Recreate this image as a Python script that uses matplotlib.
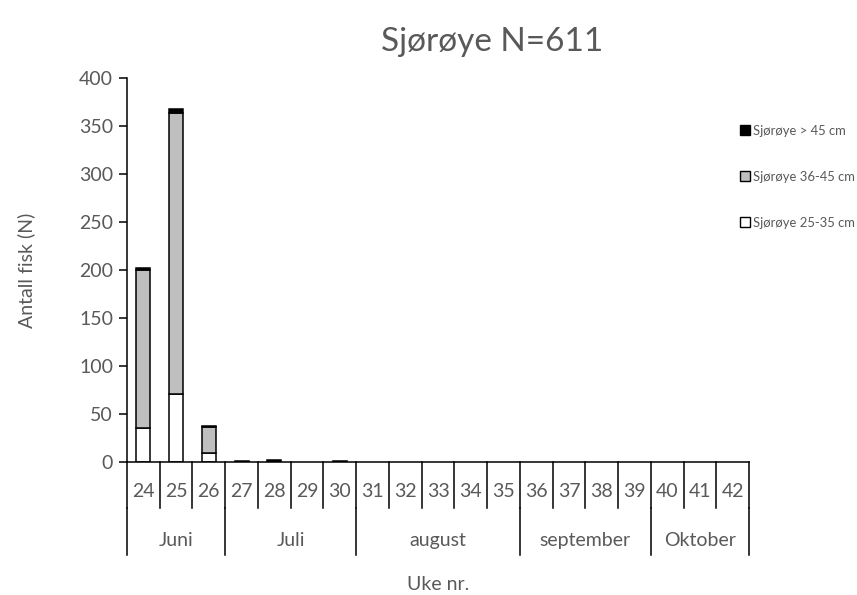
import numpy as np
import matplotlib
matplotlib.use("Agg")
import matplotlib.pyplot as plt
from matplotlib.patches import Patch

# data
weeks = [str(w) for w in range(24, 43)]
small_25_35 = [35, 71, 9, 0, 0, 0, 0, 0, 0, 0, 0, 0, 0, 0, 0, 0, 0, 0, 0]
mid_36_45 = [165, 293, 27, 0, 0, 0, 0, 0, 0, 0, 0, 0, 0, 0, 0, 0, 0, 0, 0]
big_45 = [2, 4, 1, 1, 2, 0, 1, 0, 0, 0, 0, 0, 0, 0, 0, 0, 0, 0, 0]
months = ["Juni", "Juli", "august", "september", "Oktober"]
month_weeks = [3, 4, 5, 4, 3]
labels = ["Sjørøye 25-35 cm", "Sjørøye 36-45 cm", "Sjørøye > 45 cm"]

plt.rcParams['font.family'] = ['Lato', 'DejaVu Sans']
txt = '#595959'

fig = plt.figure(figsize=(8.57, 5.95), dpi=100)
ax = fig.add_axes([127 / 857, 1 - 462 / 595, 622 / 857, 384 / 595])

x = np.arange(len(weeks))
s = np.array(small_25_35)
m = np.array(mid_36_45)
b = np.array(big_45)
w = 0.43


def stack(vals, bottom, color):
    # skip empty weeks so no zero-height outlines are drawn
    keep = vals > 0
    ax.bar(x[keep], vals[keep], w, bottom=bottom[keep], color=color,
           edgecolor='black', linewidth=1.1)


stack(s, np.zeros_like(s), 'white')
stack(m, s, '#bfbfbf')
stack(b, s + m, 'black')

ax.set_xlim(-0.5, len(weeks) - 0.5)
ax.set_ylim(0, 400)
ax.set_yticks(range(0, 401, 50))
ax.tick_params(axis='y', direction='out', length=6, width=1.1, color='black',
               labelcolor=txt, labelsize=14, pad=4)
ax.set_xticks([])
for sp in ['top', 'right']:
    ax.spines[sp].set_visible(False)
for sp in ['left', 'bottom']:
    ax.spines[sp].set_linewidth(1.1)
    ax.spines[sp].set_color('black')

# category axis: weeks and months
tr = ax.get_xaxis_transform()
for i, wk in enumerate(weeks):
    ax.text(i, -0.077, wk, transform=tr, ha='center', va='center',
            fontsize=14, color=txt)
for i in range(len(weeks) + 1):
    ax.plot([i - 0.5, i - 0.5], [0, -0.12], transform=tr, color='black',
            lw=1.1, clip_on=False)
start = 0
for name, n in zip(months, month_weeks):
    ax.text(start + n / 2 - 0.5, -0.205, name, transform=tr, ha='center',
            va='center', fontsize=14, color=txt)
    start += n
edges = np.concatenate([[0], np.cumsum(month_weeks)]) - 0.5
for e in edges:
    ax.plot([e, e], [-0.12, -0.242], transform=tr, color='black',
            lw=1.1, clip_on=False)

ax.text(0.5, -0.32, "Uke nr.", transform=ax.transAxes, ha='center',
        va='center', fontsize=14, color=txt)
ax.set_ylabel("Antall fisk (N)", fontsize=14, color=txt)
ax.yaxis.set_label_coords(-0.148, 0.5)

fig.text(492 / 857, 1 - 42 / 595, "Sjørøye N=611", ha='center', va='center',
         fontsize=24, color=txt)

handles = [Patch(facecolor='black', edgecolor='black'),
           Patch(facecolor='#bfbfbf', edgecolor='black'),
           Patch(facecolor='white', edgecolor='black')]
leg = fig.legend(handles, labels[::-1], loc='upper left',
                 bbox_to_anchor=(740 / 857, 1 - 125 / 595), frameon=False,
                 handlelength=0.8, handleheight=0.8, handletextpad=0.2,
                 labelspacing=2.6, borderaxespad=0, borderpad=0,
                 fontsize=9.4)
for t in leg.get_texts():
    t.set_color(txt)

fig.savefig("out.png", dpi=100)
